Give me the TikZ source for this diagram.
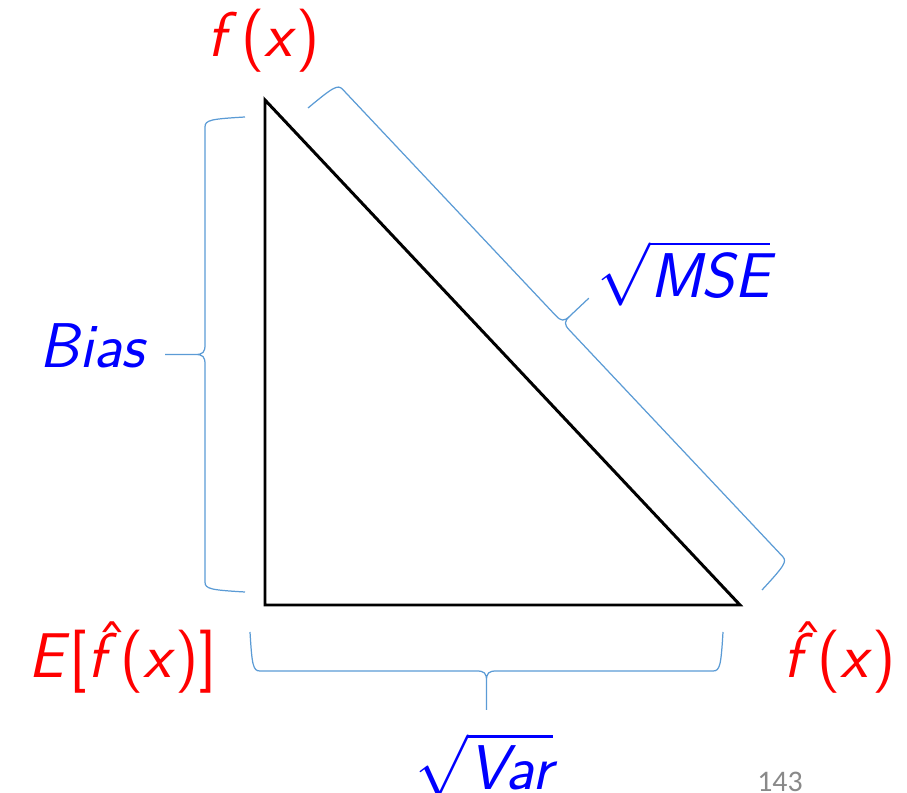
\RequirePackage{fix-cm}
\documentclass[tikz,border=0pt]{standalone}
\usepackage{fontspec}
\usetikzlibrary{calc}
\newfontfamily\pagefont{Carlito}
\definecolor{bracecol}{RGB}{91,155,213}
\definecolor{pagegray}{RGB}{137,137,137}
\tikzset{
  bracestyle/.style={draw=bracecol, line width=0.7pt},
  lbl/.style={inner sep=0pt, font=\fontsize{36}{43}\selectfont\sffamily},
  redlbl/.style={lbl, text=red},
  bluelbl/.style={lbl, text=blue},
  tri/.style={draw=black, line width=1.7pt, line join=miter},
}
\newcommand\fhat{\makebox[0pt][l]{\kern0.16em\raisebox{0.2em}{\upshape ˆ}}\textsl{f}\kern0.06em}
\newcommand\bpt[3]{%
  \pgfmathsetlengthmacro\bxs{0.02cm*(#2)}%
  \pgfmathsetlengthmacro\bxh{0.02cm*(#3)}%
  \coordinate (#1) at ($(bA)!\bxs!(bB)!\bxh!90:(bB)$);}
\newcommand\officebrace[5]{%
  \coordinate (bA) at #1; \coordinate (bB) at #2;
  \pgfmathsetmacro\hL{#3/2}%
  \bpt{c1}{2}{0.85*#4}\bpt{c2}{3}{#4}\bpt{q1}{10}{#4}%
  \bpt{q2}{\hL-10}{#4}\bpt{c3}{\hL-2}{#4}\bpt{c4}{\hL}{#4+2}\bpt{q3}{\hL}{#4+10}\bpt{tp}{\hL}{#4+#5}%
  \bpt{c5}{\hL+2}{#4}\bpt{q4}{\hL+10}{#4}\bpt{q5}{#3-10}{#4}\bpt{c6}{#3-3}{#4}\bpt{c7}{#3-2}{0.85*#4}%
  \draw[bracestyle] (bA) .. controls (c1) and (c2) .. (q1) -- (q2) .. controls (c3) and (c4) .. (q3) -- (tp)
     (tp) -- (q3) .. controls (c4) and (c5) .. (q4) -- (q5) .. controls (c6) and (c7) .. (bB);
}
\begin{document}
\begin{tikzpicture}[x=0.02cm, y=-0.02cm]
\useasboundingbox (0,0) rectangle (907,793);
% triangle
\coordinate (top) at (265,100);
\coordinate (bl) at (265,605);
\coordinate (br) at (740,605);
\draw[tri] (top) -- (bl) -- (br) -- cycle;
% braces
\officebrace{(245,592)}{(245,117)}{475}{40}{40}
\officebrace{(723,632)}{(250,632)}{473}{39}{39}
\officebrace{(308,108)}{(762,590)}{662}{38}{36}
% labels
\node[redlbl, anchor=base] (fx) at (264,57) {\textsl{f}\kern0.06em(\textsl{x})};
\node[bluelbl, anchor=base east] (bias) at (148,368) {\textsl{Bias}};
\node[bluelbl, anchor=base west] (mse) at (597,298) {$\sqrt{\hbox{\sffamily\slshape MSE}}$};
\node[redlbl, anchor=base west] (efx) at (28,678) {\textsl{E}[\fhat(\textsl{x})]};
\node[redlbl, anchor=base west] (fhx) at (783,678) {\fhat(\textsl{x})};
\node[bluelbl, anchor=base west] (var) at (415,790) {$\sqrt{\hbox{\sffamily\slshape Var}}$};
\node[font=\pagefont\fontsize{17}{20}\selectfont, text=pagegray, anchor=base, inner sep=0pt] (pg) at (780,792) {143};
\end{tikzpicture}
\end{document}
